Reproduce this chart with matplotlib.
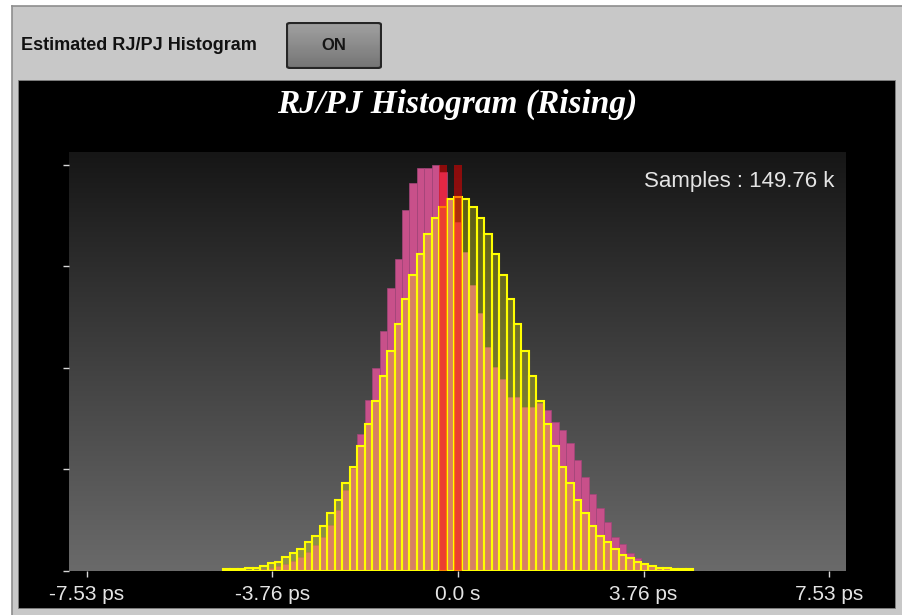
import numpy as np
import matplotlib
matplotlib.use("Agg")
import matplotlib.pyplot as plt
from matplotlib.patches import Rectangle, FancyBboxPatch
from matplotlib.lines import Line2D
from matplotlib.colors import LinearSegmentedColormap

# ---------------- data ----------------
BIN_PS = 0.1515
bin_index = list(range(-31, 32))

estimated_counts = [39, 39, 39, 65, 65, 104, 152, 183, 270, 349,
                    428, 566, 696, 893, 1137, 1399, 1728, 2055, 2469, 2891,
                    3356, 3842, 4341, 4867, 5360, 5832, 6246, 6640, 6946, 7166, 7330,
                    7369,
                    7330, 7166, 6946, 6640, 6246, 5832, 5360, 4867, 4341, 3842, 3356,
                    2891, 2469, 2055, 1728, 1399, 1137, 893, 696, 566, 428,
                    315, 250, 183, 138, 104, 65, 65, 39, 39, 39]

measured_counts = [0, 0, 0, 0, 0,
                   39, 59, 99, 138, 197,
                   276, 374, 512, 670, 906, 1202, 1596, 2030, 2694, 3369,
                   4000, 4735, 5570, 6148, 7113, 7639, 7941, 7941, 8000, 7862, 7330,
                   6877,
                   6292, 5635, 5078, 4420, 4026, 3777, 3434, 3434, 3237, 3237, 3310,
                   3172, 2942, 2778, 2516, 2187, 1858, 1511, 1235, 971, 676,
                   532, 361, 262, 152, 118, 79, 59, 30, 0, 0]

spike_index = [-2, 0]
spike_counts = [8000, 8000]

xtick_values = [-7.53, -3.765, 0.0, 3.765, 7.53]
xtick_labels = ["-7.53 ps", "-3.76 ps", "0.0 s", "3.76 ps", "7.53 ps"]
ytick_values = [0, 2000, 4000, 6000, 8000]

title_text = "RJ/PJ Histogram (Rising)"
samples_text = "Samples : 149.76 k"
panel_label = "Estimated RJ/PJ Histogram"
button_text = "ON"

# ---------------- figure ----------------
W, H = 903, 615
fig = plt.figure(figsize=(W / 100, H / 100), dpi=100, facecolor="white")


def fx(x):
    return x / W


def fy(y):
    return 1 - y / H


# window background
fig.patches.append(Rectangle((fx(12), 0), 1 - fx(12), fy(6), transform=fig.transFigure,
                             facecolor="#c8c8c8", edgecolor="none", zorder=-5))
fig.lines.append(Line2D([fx(12), fx(12)], [0, fy(6)], transform=fig.transFigure,
                        color="#8e8e8e", lw=1.2, zorder=-4))
fig.lines.append(Line2D([fx(12), 1], [fy(6), fy(6)], transform=fig.transFigure,
                        color="#8e8e8e", lw=1.2, zorder=-4))
# black panel
fig.patches.append(Rectangle((fx(18), fy(608)), (895 - 18) / W, (608 - 80) / H,
                             transform=fig.transFigure, facecolor="black",
                             edgecolor="#808080", lw=0.6, zorder=-3))

sans = ["Liberation Sans", "DejaVu Sans"]

fig.text(fx(21), fy(46), panel_label, ha="left", va="center", fontsize=13,
         fontweight="bold", family=sans, color="#111111")

# button
bax = fig.add_axes([fx(286), fy(69), 96 / W, 47 / H])
bax.set_axis_off()
bgrad = np.linspace(0, 1, 64).reshape(-1, 1)
bcmap = LinearSegmentedColormap.from_list("btn", ["#a2a2a2", "#747474"])
bim = bax.imshow(bgrad, cmap=bcmap, extent=(0, 1, 0, 1), aspect="auto", origin="upper")
bpatch = FancyBboxPatch((0.01, 0.02), 0.98, 0.96, boxstyle="round,pad=0,rounding_size=0.04",
                        transform=bax.transAxes, facecolor="none", edgecolor="#262626",
                        linewidth=1.6)
bax.add_patch(bpatch)
bim.set_clip_path(bpatch)
bax.set_xlim(0, 1)
bax.set_ylim(0, 1)
fig.text(fx(334), fy(46), button_text, ha="center", va="center", fontsize=12,
         fontweight="bold", family=sans, color="#151515", zorder=5)

# title
fig.text(fx(457), fy(104), title_text, ha="center", va="center", fontsize=24,
         fontweight="bold", fontstyle="italic", family=["Liberation Serif", "DejaVu Serif"],
         color="white")

# main axes
ax = fig.add_axes([fx(69), fy(571), (846 - 69) / W, (571 - 152) / H])
ax.set_facecolor("none")
grad = np.linspace(0, 1, 256).reshape(-1, 1)
gcmap = LinearSegmentedColormap.from_list("bg", ["#161616", "#6a6a6a"])
ax.imshow(grad, cmap=gcmap, extent=(0, 1, 0, 1), transform=ax.transAxes,
          aspect="auto", origin="upper", zorder=0)

xc = np.array(bin_index) * BIN_PS
ax.bar(xc, measured_counts, width=BIN_PS, color="#c8508a", edgecolor="#a3457a",
       linewidth=0.5, zorder=2)
ax.bar(xc, estimated_counts, width=BIN_PS, facecolor=(1, 1, 0, 0.28),
       edgecolor="#ffff00", linewidth=1.5, zorder=3)
ax.bar(np.array(spike_index) * BIN_PS, spike_counts, width=BIN_PS,
       color=(1, 0, 0, 0.5), linewidth=0, zorder=4)

ax.set_xlim(-7.89, 7.87)
ax.set_ylim(0, 8256)
for s in ax.spines.values():
    s.set_visible(False)
ax.set_xticks(xtick_values)
ax.set_xticklabels(xtick_labels, family=sans)
ax.set_yticks(ytick_values)
ax.set_yticklabels([])
ax.tick_params(axis="x", direction="out", length=4, width=1, color="#d8d8d8",
               labelcolor="#e4e4e4", labelsize=15, pad=6)
ax.tick_params(axis="y", direction="out", length=4.5, width=1, color="#d8d8d8")

ax.text(0.985, 0.93, samples_text, transform=ax.transAxes, ha="right", va="center",
        fontsize=16, family=sans, color="#e4e4e4", zorder=6)

fig.savefig("out.png", dpi=100, facecolor=fig.get_facecolor())
